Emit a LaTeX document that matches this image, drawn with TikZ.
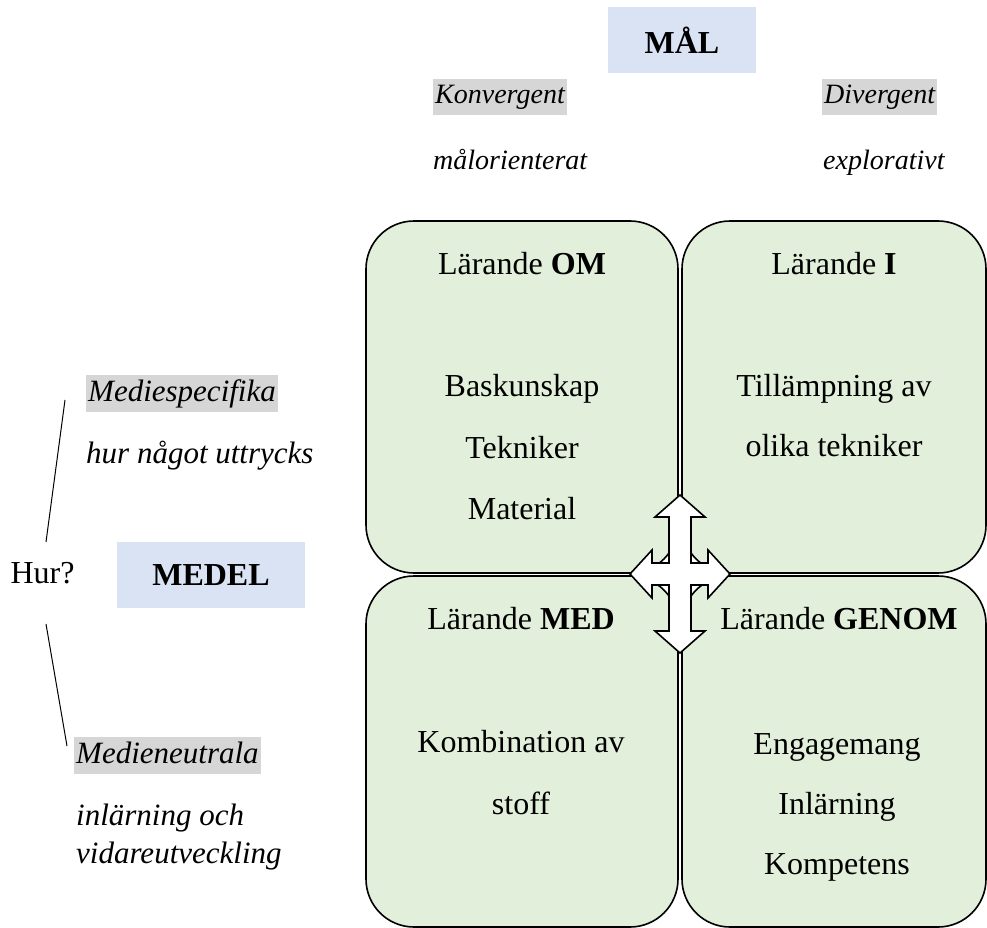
\documentclass[tikz,border=0pt]{standalone}
\usepackage{fontspec}
\setmainfont{Liberation Serif}
\usepackage{tikz}
\usetikzlibrary{calc,positioning}
\usepackage{xcolor}
\definecolor{malbla}{HTML}{DAE3F3}
\definecolor{rutgron}{HTML}{E2EFDA}
\definecolor{markgra}{HTML}{D6D6D6}
\newcommand{\storstil}{\fontsize{32}{38}\selectfont}
\newcommand{\vstil}{\fontsize{31}{38}\selectfont\itshape}
\newcommand{\tstil}{\fontsize{28}{34}\selectfont\itshape}
\tikzset{
  ruta/.style={draw,line width=1.6pt,fill=rutgron,rounded corners=48pt,minimum height=352pt},
  rubrik/.style={fill=malbla,font=\storstil\bfseries,minimum width=148pt,minimum height=66pt},
  vmark/.style={fill=markgra,font=\vstil,anchor=west,inner xsep=2pt,inner ysep=2.5pt,text height=24pt,text depth=8pt},
  tmark/.style={fill=markgra,font=\tstil,anchor=west,inner xsep=2pt,inner ysep=4pt,text height=21pt,text depth=7pt},
  vtext/.style={font=\vstil,anchor=west,inner sep=0pt,text height=24pt,text depth=8pt},
  ttext/.style={font=\tstil,anchor=west,inner sep=0pt,text height=21pt,text depth=7pt},
  rtext/.style={font=\storstil,inner sep=0pt,text height=23pt,text depth=6pt},
  tunn/.style={line width=1pt}
}

\begin{document}
\begin{tikzpicture}[x=1pt,y=-1pt]
	\useasboundingbox (0,0) rectangle (987,928);

    % mal och medel
    \node[rubrik] (mal) at (682,40) {MÅL};
    \node[rubrik,minimum width=188pt] (medel) at (211,575) {MEDEL};

    \node[tmark] (konv) at (433,97) {Konvergent};
    \node[ttext] (malor) at (433,163) {målorienterat};
    \node[tmark] (diverg) at (822,97) {Divergent};
    \node[ttext] (explor) at (823,163) {explorativt};

    % vänster sida
    \node[vmark] (spec) at (86,393.5) {Mediespecifika};
    \node[vtext] (uttr) at (86,455) {hur något uttrycks};
    \node[rtext] (hur) at (42.5,574.5) {Hur?};
    \node[vmark] (neutr) at (74,755) {Medieneutrala};
    \node[font=\vstil,anchor=west,align=left,inner sep=0pt] (inlar) at (76,837) {inlärning och\\vidareutveckling};

    \coordinate (s1) at (65,400);
    \coordinate (s2) at (46,542);
    \coordinate (n1) at (46,624);
    \coordinate (n2) at (67,746);
    \draw[tunn] (s1) -- (s2);
    \draw[tunn] (n1) -- (n2);

    % de fyra rutorna
    \node[ruta,minimum width=312pt] (om) at (522,397) {};
    \node[ruta,minimum width=304pt] (i) at (834,397) {};
    \node[ruta,minimum width=312pt,minimum height=351pt] (med) at (522,751.5) {};
    \node[ruta,minimum width=304pt,minimum height=351pt] (genom) at (834,751.5) {};

    \node[rtext] (omR) at (522,266) {Lärande \textbf{OM}};
    \node[rtext] (omA) at (522,388) {Baskunskap};
    \node[rtext] (omB) at (522,450) {Tekniker};
    \node[rtext] (omC) at (522,511) {Material};

    \node[rtext] (iR) at (834,266) {Lärande \textbf{I}};
    \node[rtext] (iA) at (834,388) {Tillämpning av};
    \node[rtext] (iB) at (834,448) {olika tekniker};

    \node[rtext] (medR) at (521,621) {Lärande \textbf{MED}};
    \node[rtext] (medA) at (521,744) {Kombination av};
    \node[rtext] (medB) at (521,806) {stoff};

    \node[rtext] (genomR) at (839,621) {Lärande \textbf{GENOM}};
    \node[rtext] (genomA) at (837,746) {Engagemang};
    \node[rtext] (genomB) at (837,806) {Inlärning};
    \node[rtext] (genomC) at (837,866) {Kompetens};

    % korspilen i mitten
    \begin{scope}[shift={(680,574)}]
    \draw[line width=1.6pt,fill=white,line join=miter]
      (0,-79) -- (25,-57) -- (11,-57) -- (11,-11) -- (28,-11) -- (28,-24) -- (50,0)
      -- (28,24) -- (28,11) -- (11,11) -- (11,57) -- (25,57) -- (0,79)
      -- (-25,57) -- (-11,57) -- (-11,11) -- (-28,11) -- (-28,24) -- (-50,0)
      -- (-28,-24) -- (-28,-11) -- (-11,-11) -- (-11,-57) -- (-25,-57) -- cycle;
    \end{scope}
    \end{tikzpicture}
\end{document}
